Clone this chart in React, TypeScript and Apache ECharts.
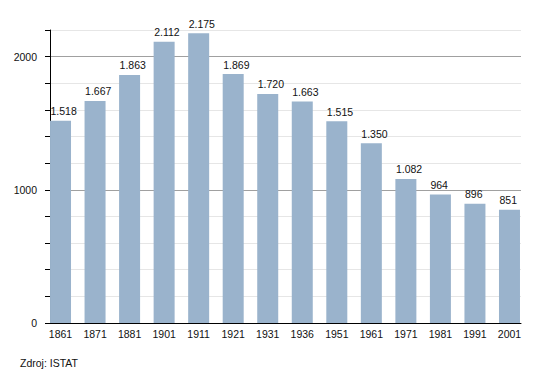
import React, { useEffect, useRef } from "react";
import * as echarts from "echarts";

const years = ["1861", "1871", "1881", "1901", "1911", "1921", "1931", "1936", "1951", "1961", "1971", "1981", "1991", "2001"];
const population = [1518, 1667, 1863, 2112, 2175, 1869, 1720, 1663, 1515, 1350, 1082, 964, 896, 851];
const yLabels = [0, 1000, 2000];
const sourceText = "Zdroj: ISTAT";

const fmt = (v: number) => String(v).replace(/\B(?=(\d{3})+(?!\d))/g, ".");

export default function App() {
  const ref = useRef<HTMLDivElement>(null);
  useEffect(() => {
    document.body.style.margin = "0";
    const chart = echarts.init(ref.current!, null, { renderer: "svg" });
    const font = "Liberation Sans, Arial, sans-serif";
    chart.setOption({
      animation: false,
      backgroundColor: "#ffffff",
      textStyle: { fontFamily: font },
      grid: [
        { left: 50, top: 30, width: 471, height: 293 },
        { left: 43.25, top: 30, width: 483.5, height: 293 },
      ],
      xAxis: [
        {
          gridIndex: 0,
          type: "value",
          min: 0,
          max: 1,
          axisLine: { show: true, lineStyle: { color: "#000", width: 1 } },
          axisTick: { show: false },
          axisLabel: { show: false },
          splitLine: { show: false },
        },
        {
          gridIndex: 1,
          type: "category",
          data: years,
          axisLine: { show: false },
          axisTick: { show: false },
          axisLabel: { color: "#111", fontSize: 10.5, fontFamily: font, margin: 5, interval: 0 },
        },
      ],
      yAxis: [
        {
          gridIndex: 0,
          type: "value",
          min: 0,
          max: 2200,
          interval: 200,
          axisLine: { show: true, lineStyle: { color: "#000", width: 1 } },
          axisTick: { show: true, length: 5, lineStyle: { color: "#000" } },
          axisLabel: {
            color: "#111",
            fontSize: 10.5,
            fontFamily: font,
            margin: 13,
            formatter: (v: number) => (yLabels.includes(v) ? String(v) : ""),
          },
          splitLine: {
            show: true,
            lineStyle: { color: ["#a0a0a0", "#e6e6e6", "#e6e6e6", "#e6e6e6", "#e6e6e6"], width: 1 },
          },
        },
        {
          gridIndex: 1,
          type: "value",
          min: 0,
          max: 2200,
          show: false,
          splitLine: { show: false },
        },
      ],
      series: [
        {
          type: "bar",
          xAxisIndex: 1,
          yAxisIndex: 1,
          data: population,
          barWidth: 21,
          itemStyle: { color: "#9ab3cc" },
          label: {
            show: true,
            position: "top",
            distance: 4,
            align: "left",
            offset: [-10, 0],
            color: "#111",
            fontSize: 10.5,
            fontFamily: font,
            formatter: (p: any) => fmt(p.value),
          },
        },
      ],
      graphic: [
        {
          type: "text",
          left: 20,
          top: 357,
          style: { text: sourceText, fill: "#111", font: `10.5px ${font}` },
        },
      ],
    });
    return () => chart.dispose();
  }, []);
  return <div ref={ref} style={{ position: "absolute", left: 0, top: 0, width: 550, height: 373 }} />;
}
